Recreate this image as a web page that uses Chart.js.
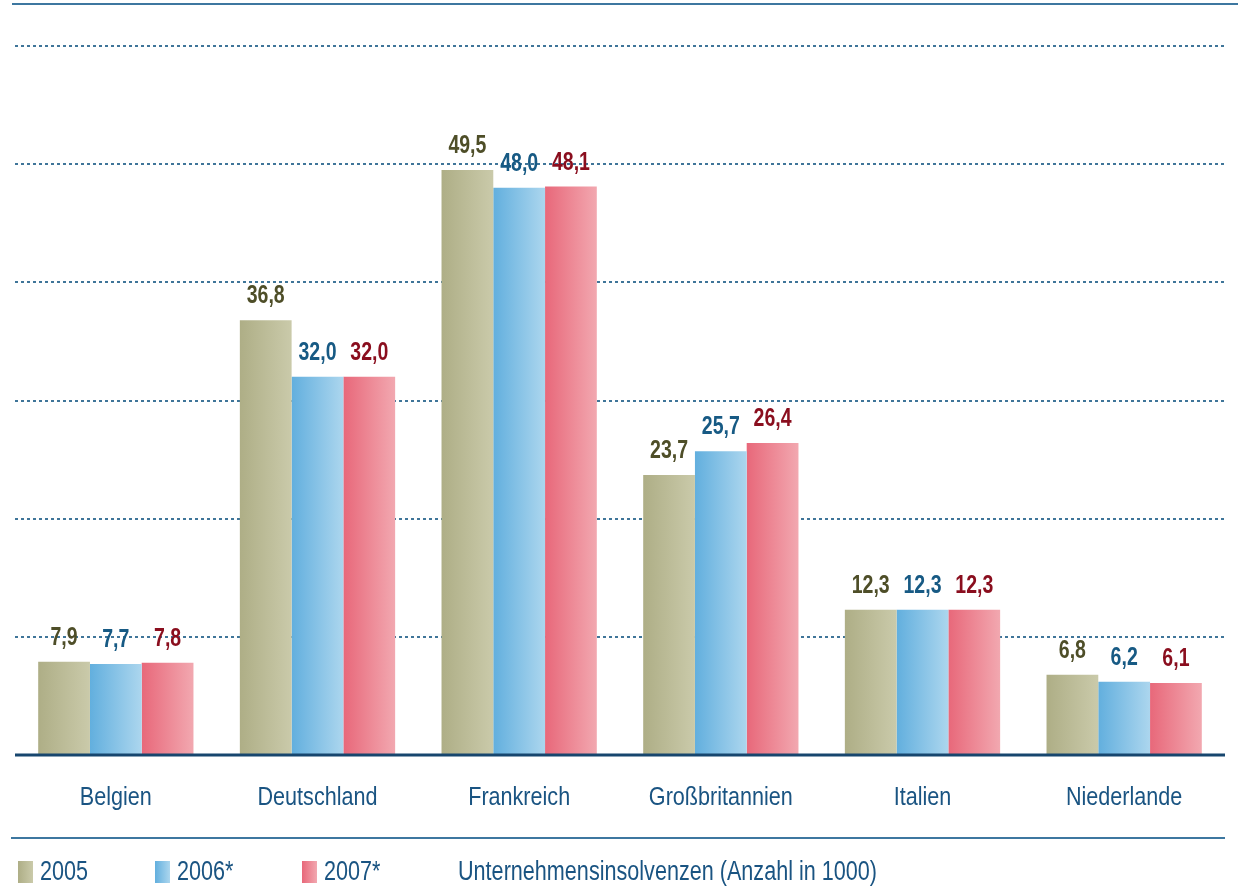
<!DOCTYPE html>
<html>
<head>
<meta charset="utf-8">
<script src="https://cdn.jsdelivr.net/npm/chart.js@4.4.0/dist/chart.umd.min.js"></script>
<style>
  html, body { margin:0; padding:0; background:#fff; }
  canvas { display:block; }
</style>
</head>
<body>
<canvas id="c" width="1238" height="887"></canvas>
<script>
// Unternehmensinsolvenzen (Anzahl in 1000)
const countries = ['Belgien','Deutschland','Frankreich','Großbritannien','Italien','Niederlande'];
const years = ['2005','2006*','2007*'];
const v2005 = [7.9, 36.8, 49.5, 23.7, 12.3, 6.8];
const v2006 = [7.7, 32.0, 48.0, 25.7, 12.3, 6.2];
const v2007 = [7.8, 32.0, 48.1, 26.4, 12.3, 6.1];
const yTicks = [0, 10, 20, 30, 40, 50, 60];
const legendTitle = 'Unternehmensinsolvenzen (Anzahl in 1000)';

const barColors = [
  ['#aeae86', '#cacaaa'],
  ['#62afde', '#acd6ee'],
  ['#e8687a', '#f2a8b0']
];
const labelColors = ['#4e4e28', '#175a84', '#8a0e1e'];
const blue = '#1a5482';
const sans = '"Liberation Sans", Arial, sans-serif';

const fmt = v => v.toFixed(1).replace('.', ',');

function hGrad(ctx, x0, x1, c) {
  const g = ctx.createLinearGradient(x0, 0, x1, 0);
  g.addColorStop(0, c[0]);
  g.addColorStop(1, c[1]);
  return g;
}

// the reference type is a condensed face: squeeze Arial-metric text horizontally
function squeezed(ctx, text, x, y, sx) {
  ctx.save();
  ctx.translate(x, y);
  ctx.scale(sx, 1);
  ctx.fillText(text, 0, 0);
  ctx.restore();
}

const decor = {
  id: 'decor',
  beforeDatasetsDraw(chart) {
    const ctx = chart.ctx;
    chart.data.datasets.forEach((ds, i) => {
      chart.getDatasetMeta(i).data.forEach(el => {
        const x0 = el.x - el.width / 2, x1 = el.x + el.width / 2;
        el.options.backgroundColor = hGrad(ctx, x0, x1, barColors[i]);
      });
    });
  },
  afterDatasetsDraw(chart) {
    const ctx = chart.ctx;
    const y = chart.scales.y, x = chart.scales.x;
    const area = chart.chartArea;
    ctx.save();

    // baseline
    ctx.strokeStyle = '#17466e';
    ctx.lineWidth = 3;
    ctx.beginPath();
    ctx.moveTo(area.left, y.getPixelForValue(0));
    ctx.lineTo(area.right, y.getPixelForValue(0));
    ctx.stroke();

    // top and bottom rules
    ctx.strokeStyle = '#3d77a0';
    ctx.lineWidth = 2;
    ctx.beginPath();
    ctx.moveTo(12, 4); ctx.lineTo(1238, 4);
    ctx.moveTo(11, 838); ctx.lineTo(area.right, 838);
    ctx.stroke();

    // value labels
    ctx.textAlign = 'center';
    ctx.textBaseline = 'alphabetic';
    ctx.font = 'bold 25px ' + sans;
    chart.data.datasets.forEach((ds, i) => {
      ctx.fillStyle = labelColors[i];
      chart.getDatasetMeta(i).data.forEach((el, j) => {
        squeezed(ctx, fmt(ds.data[j]), el.x, el.y - 17, 0.78);
      });
    });

    // category labels
    ctx.fillStyle = blue;
    ctx.font = '26px ' + sans;
    ctx.textBaseline = 'middle';
    countries.forEach((c, j) => {
      squeezed(ctx, c, x.getPixelForValue(j), 798, 0.83);
    });

    // legend
    const ly = 872;
    const boxes = [18, 155, 302];
    ctx.textAlign = 'left';
    ctx.font = '27px ' + sans;
    years.forEach((yr, i) => {
      ctx.fillStyle = hGrad(ctx, boxes[i], boxes[i] + 15, barColors[i]);
      ctx.fillRect(boxes[i], ly - 11, 15, 22);
      ctx.fillStyle = blue;
      squeezed(ctx, yr, boxes[i] + 22, ly + 1, 0.8);
    });
    squeezed(ctx, legendTitle, 458, ly + 1, 0.8);
    ctx.restore();
  }
};

new Chart(document.getElementById('c'), {
  type: 'bar',
  data: {
    labels: countries,
    datasets: [
      { label: years[0], data: v2005 },
      { label: years[1], data: v2006 },
      { label: years[2], data: v2007 }
    ].map((d, i) => Object.assign(d, {
      backgroundColor: () => barColors[i][0],
      borderWidth: 0,
      categoryPercentage: 0.77,
      barPercentage: 1.0
    }))
  },
  options: {
    responsive: false,
    devicePixelRatio: 1,
    animation: false,
    layout: { padding: { left: 15, right: 13, top: 46, bottom: 132 } },
    plugins: { legend: { display: false }, tooltip: { enabled: false } },
    scales: {
      x: { display: false },
      y: {
        min: yTicks[0],
        max: yTicks[yTicks.length - 1],
        afterBuildTicks: s => { s.ticks = yTicks.map(v => ({ value: v })); },
        ticks: { display: false },
        grid: {
          drawTicks: false,
          color: c => c.tick && c.tick.value === 0 ? 'rgba(0,0,0,0)' : '#3f7599',
          lineWidth: 2
        },
        border: { display: false, dash: [3, 3] }
      }
    }
  },
  plugins: [decor]
});
</script>
</body>
</html>
